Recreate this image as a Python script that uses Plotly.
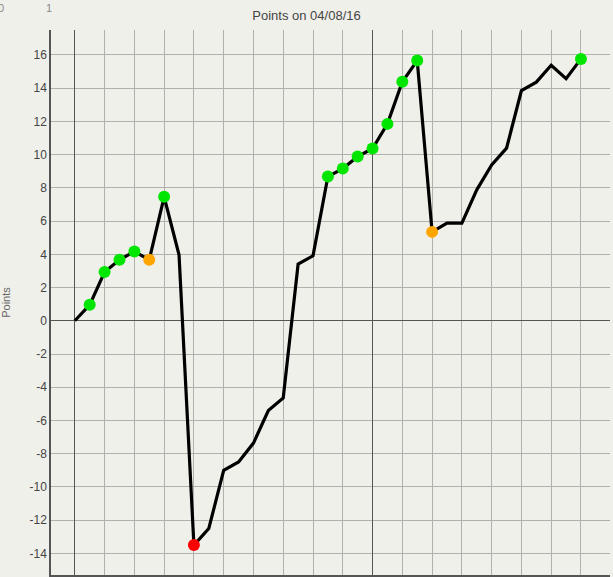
import plotly.graph_objects as go

TITLE = "Points on 04/08/16"
Y_TITLE = "Points"

days = list(range(35))
points = [0.0, 0.96, 2.93, 3.67, 4.17, 3.67, 7.46, 3.97, -13.5, -12.5,
          -9.0, -8.5, -7.36, -5.4, -4.65, 3.41, 3.91, 8.68, 9.16, 9.88,
          10.37, 11.85, 14.38, 15.66, 5.35, 5.88, 5.88, 7.88, 9.38, 10.39,
          13.85, 14.36, 15.38, 14.57, 15.76]
# marker flag per point: '' = no marker
flags = ['', 'good', 'good', 'good', 'good', 'warn', 'good', '', 'bad', '',
         '', '', '', '', '', '', '', 'good', 'good', 'good',
         'good', 'good', 'good', 'good', 'warn', '', '', '', '', '',
         '', '', '', '', 'good']
y_ticks = list(range(-14, 17, 2))

FLAG_COLORS = {'good': '#00e600', 'warn': '#ffa500', 'bad': '#ff0000'}
BG = '#f0f0eb'
GRID = '#b0b0ac'
DARK = '#555555'
FONT = "Liberation Sans, Arial, sans-serif"

fig = go.Figure()

fig.add_trace(go.Scatter(x=days, y=points, mode='lines',
                         line=dict(color='black', width=3.2),
                         showlegend=False, hoverinfo='skip'))

for flag, color in FLAG_COLORS.items():
    xs = [d for d, f in zip(days, flags) if f == flag]
    ys = [p for p, f in zip(points, flags) if f == flag]
    fig.add_trace(go.Scatter(x=xs, y=ys, mode='markers',
                             marker=dict(color=color, size=12, line=dict(width=0)),
                             showlegend=False))

# dummy trace on the overlay axis so its darker grid shows
fig.add_trace(go.Scatter(x=[days[0]], y=[points[0]], xaxis='x2', mode='markers',
                         marker=dict(opacity=0), showlegend=False, hoverinfo='skip'))

x_range = [-1.6, 35.95]
fig.update_layout(
    width=613, height=577,
    paper_bgcolor=BG, plot_bgcolor=BG,
    margin=dict(l=51, r=3, t=30, b=2),
    font=dict(family=FONT, size=12, color='#444444'),
    title=dict(text=TITLE, x=0.5, xanchor='center', y=1 - 15 / 577, yanchor='middle',
               font=dict(size=13, color='#444444')),
    xaxis=dict(range=x_range, dtick=2, tick0=0, showgrid=True, gridcolor=GRID,
               gridwidth=1, zeroline=False, showline=True, linecolor=DARK,
               linewidth=1.5, ticks='outside', ticklen=4, tickcolor=GRID,
               automargin=False, mirror=False),
    xaxis2=dict(range=x_range, overlaying='x', dtick=20, tick0=0, showgrid=True,
                gridcolor=DARK, gridwidth=1.2, zeroline=False, showticklabels=False,
                ticks='', showline=False),
    yaxis=dict(range=[-15.3, 17.5], tickvals=y_ticks,
               ticktext=[str(v) for v in y_ticks],
               showgrid=True, gridcolor=GRID,
               gridwidth=1, zeroline=True, zerolinecolor=DARK, zerolinewidth=1.2,
               showline=True, linecolor=DARK, linewidth=1.5, ticks='',
               automargin=False,
               title=dict(text=Y_TITLE, standoff=22, font=dict(size=11, color='#666666'))),
    annotations=[
        dict(text='0', x=-4, y=577, xref='paper', yref='paper', showarrow=False,
             xanchor='left', yanchor='top', font=dict(size=11, color='#888888')),
        dict(text='1', x=44, y=577, xref='paper', yref='paper', showarrow=False,
             xanchor='left', yanchor='top', font=dict(size=11, color='#888888')),
    ],
)

# the two stray axis digits sit in pixel space at the top-left corner
pw, ph = 613 - 51 - 3, 577 - 30 - 2
for a in fig.layout.annotations:
    a.x = (a.x - 51) / pw
    a.y = (a.y - 2) / ph

# drop the default page margin so the figure fills the window
fig.write_html("out.html", config={'displayModeBar': False},
               post_script="document.body.style.margin='0';document.body.style.overflow='hidden';")
